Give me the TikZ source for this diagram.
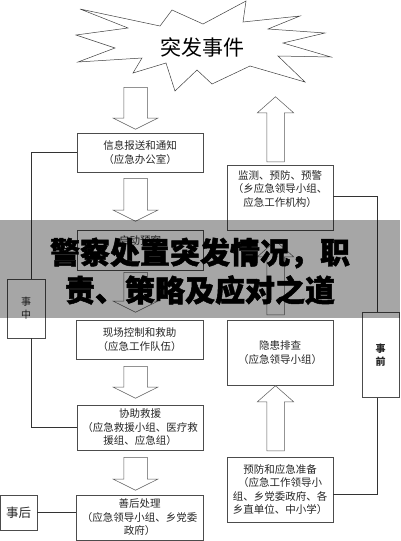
\documentclass[tikz,border=0pt]{standalone}
\usepackage{fontspec}
\setmainfont{Noto Sans CJK SC}
\newfontfamily\bannerfont{Noto Sans CJK SC}[BoldFeatures={FakeBold=1.6}]
\usetikzlibrary{shapes.arrows, positioning}
\newcommand\cellfont{\fontsize{10.5pt}{13.5pt}\selectfont}
\newcommand\bchar[1]{\makebox[30pt]{#1}}
\tikzset{
    plain-box/.style = {draw=black!70, fill=white, line width=0.6pt, rectangle, align=center, font=\cellfont, text=black!85, inner sep=2pt},
    down-arrow/.style = {single arrow, draw=black!65, fill=white, line width=0.5pt, rotate=-90, anchor=tail, inner xsep=0pt, inner ysep=11.5pt, single arrow head extend=10.5pt, single arrow tip angle=127, minimum height=#1},
    up-arrow/.style = {single arrow, draw=black!65, fill=white, line width=0.5pt, rotate=90, anchor=tail, inner xsep=0pt, inner ysep=8.5pt, single arrow head extend=9.5pt, single arrow tip angle=97, minimum height=#1},
    link/.style = {draw=black!80, line width=0.6pt},
    banner-text/.style = {font=\bannerfont\fontsize{30pt}{34pt}\selectfont\bfseries, text=black, inner sep=0pt},
}

\begin{document}
\begin{tikzpicture}[x=1pt, y=-1pt]
\useasboundingbox (0,0) rectangle (400,541);
% starburst
\draw[black!75, fill=white, line width=0.5pt] (80,9) -- (160,26) -- (172,10) -- (203,24) -- (246,1) -- (243,22) -- (300,16) -- (268,29) -- (325,33) -- (283,43) -- (331,57) -- (278,56) -- (305,82) -- (250,66) -- (212,84) -- (197,70) -- (175,91) -- (166,63) -- (133,73) -- (142,58) -- (78,62) -- (115,48) -- (76,35) -- (128,28) -- cycle;
\node[font=\fontsize{21pt}{24pt}\selectfont] (event) at (202,47) {突发事件};

% left column
\node[plain-box, minimum width=126pt, minimum height=39pt] (report) at (140,152.5) {信息报送和通知\\（应急办公室）};
\node[plain-box, minimum width=126pt, minimum height=40pt] (plan) at (140,250) {};
\node[font=\cellfont, text=black!85, below=2pt of plan.north] (plantxt) {启动预案};
\node[plain-box, minimum width=127pt, minimum height=39pt] (control) at (139.5,339.5) {现场控制和救助\\（应急工作队伍）};
\node[plain-box, minimum width=126pt, minimum height=45pt] (rescue) at (140,427.5) {协助救援\\（应急救援小组、医疗救\\援组、应急组）};
\node[plain-box, minimum width=127pt, minimum height=45pt] (aftermath) at (139.5,517.5) {善后处理\\（应急领导小组、乡党委\\政府）};

\node[down-arrow=42pt] (a1) at (135.5,87) {};
\node[down-arrow=43pt] (a2) at (135.5,178) {};
\node[down-arrow=40pt] (a3) at (135.5,272) {};
\node[down-arrow=32pt] (a4) at (135.5,366) {};
\node[down-arrow=33pt] (a5) at (135.5,457) {};

% right column
\node[plain-box, minimum width=106pt, minimum height=65pt] (monitor) at (280,197.5) {};
\node[font=\cellfont, text=black!85, align=center, below=2pt of monitor.north] (monitortxt) {监测、预防、预警\\（乡应急领导小组、\\应急工作机构）};
\node[plain-box, minimum width=106pt, minimum height=65pt] (check) at (280,352.5) {隐患排查\\（应急领导小组）};
\node[plain-box, minimum width=106pt, minimum height=65pt] (prepare) at (280,489.5) {预防和应急准备\\（应急工作领导小\\组、乡党委政府、各\\乡直单位、中小学）};

\node[up-arrow=65pt] (u1) at (275.5,162) {};
\node[up-arrow=74pt] (u2) at (275.5,315) {};
\node[up-arrow=65pt] (u3) at (275.5,451) {};

% stage boxes
\node[plain-box, minimum width=37pt, minimum height=35pt, font=\fontsize{12.5pt}{14pt}\selectfont] (after) at (18.5,512.5) {事后};
\node[plain-box, minimum width=38pt, minimum height=59pt, font=\fontsize{10pt}{13pt}\selectfont] (during) at (26,308.5) {事\\中};
\node[plain-box, minimum width=37pt, minimum height=85pt, font=\fontsize{10pt}{13pt}\selectfont\bfseries] (before) at (380.5,355) {事\\前};

\draw[link] (report.west) -| ([xshift=5pt]during.north);
\draw[link] ([xshift=5pt]during.south) |- (rescue.west);
\draw[link] (after.east) -- (after.east -| aftermath.west);
\draw[link] ([yshift=1.5pt]monitor.east) -| ([xshift=-3.5pt]before.north);
\draw[link] ([xshift=-3.5pt]before.south) |- ([yshift=-4.5pt]prepare.east);

% banner
\fill[black, fill opacity=0.35] (0,220) rectangle (400,318);
\node[banner-text] (title1) at (200,253) {\bchar{警}\bchar{察}\bchar{处}\bchar{置}\bchar{突}\bchar{发}\bchar{情}\bchar{况}\bchar{，}\bchar{职}};
\node[banner-text] (title2) at (200,290) {\bchar{责}\bchar{、}\bchar{策}\bchar{略}\bchar{及}\bchar{应}\bchar{对}\bchar{之}\bchar{道}};
\end{tikzpicture}
\end{document}
